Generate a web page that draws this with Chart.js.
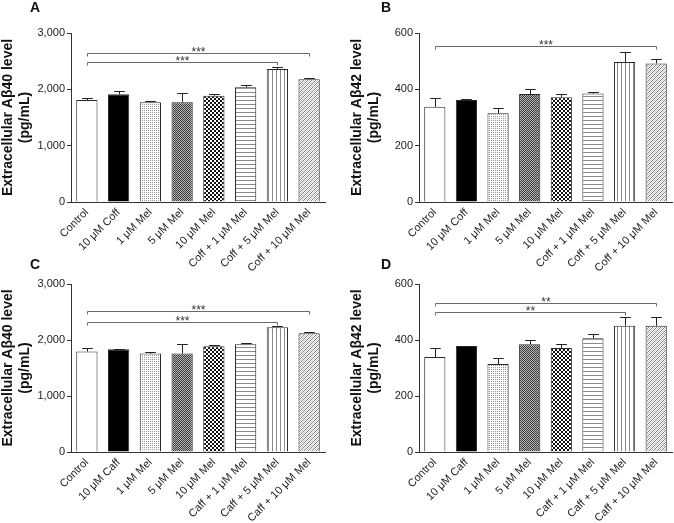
<!DOCTYPE html>
<html><head><meta charset="utf-8">
<script src="https://cdn.jsdelivr.net/npm/chart.js@4/dist/chart.umd.min.js"></script>
<style>
html,body{margin:0;padding:0;background:#fff;}
body{width:674px;height:523px;position:relative;overflow:hidden;font-family:"Liberation Sans",Arial,sans-serif;}
canvas{position:absolute;}
.lbl{position:absolute;font:bold 14px "Liberation Sans",Arial,sans-serif;line-height:14px;color:#111;}
</style></head><body>
<canvas id="cA" width="337" height="272" style="left:0;top:0"></canvas>
<canvas id="cB" width="337" height="272" style="left:337px;top:0"></canvas>
<canvas id="cC" width="337" height="272" style="left:0;top:251px"></canvas>
<canvas id="cD" width="337" height="272" style="left:337px;top:251px"></canvas>
<div class="lbl" style="left:30px;top:0px">A</div>
<div class="lbl" style="left:381px;top:0px">B</div>
<div class="lbl" style="left:30px;top:257px">C</div>
<div class="lbl" style="left:381px;top:257px">D</div>
<script>
// ---- data ----
const categoriesTop = ['Control','10 μM Coff','1 μM Mel','5 μM Mel','10 μM Mel','Coff + 1 μM Mel','Coff + 5 μM Mel','Coff + 10 μM Mel'];
const categoriesBottom = ['Control','10 μM Caff','1 μM Mel','5 μM Mel','10 μM Mel','Caff + 1 μM Mel','Caff + 5 μM Mel','Caff + 10 μM Mel'];

const meansA = [1811, 1912, 1770, 1770, 1887, 2036, 2361, 2178];
const semA   = [41, 58, 23, 160, 37, 35, 30, 29];
const meansB = [338, 362, 315, 383, 372, 385, 497, 492];
const semB   = [32, 5, 20, 17, 13, 7, 37, 15];
const meansC = [1793, 1836, 1758, 1758, 1890, 1925, 2228, 2121];
const semC   = [61, 11, 24, 167, 24, 17, 30, 18];
const meansD = [339, 379, 314, 385, 371, 406, 451, 451];
const semD   = [32, 1, 21, 14, 15, 16, 30, 30];

const ticksAbeta40 = [0, 1000, 2000, 3000];
const ticksAbeta42 = [0, 200, 400, 600];

const bracketsA = [{from:0, to:7, level:2640, label:'***'}, {from:0, to:6, level:2491, label:'***'}];
const bracketsB = [{from:0, to:7, level:554, label:'***'}];
const bracketsC = [{from:0, to:7, level:2520, label:'***'}, {from:0, to:6, level:2328, label:'***'}];
const bracketsD = [{from:0, to:7, level:533, label:'**'}, {from:0, to:6, level:501, label:'**'}];

// ---- styles ----
const FONT = '"Liberation Sans", Arial, sans-serif';
Chart.defaults.font.family = FONT;

function pattern(kind) {
  const c = document.createElement('canvas');
  const s = 4;
  c.width = c.height = s;
  const g = c.getContext('2d');
  g.fillStyle = '#fff'; g.fillRect(0, 0, s, s);
  if (kind === 'dots') {
    g.fillStyle = '#9a9a9a';
    g.fillRect(0,0,1,1); g.fillRect(2,2,1,1); g.fillRect(2,0,1,1); g.fillRect(0,2,1,1);
  } else if (kind === 'fine') {
    for (let i = 0; i < s; i++) for (let j = 0; j < s; j++) {
      g.fillStyle = ((i + j) % 2 === 0) ? '#3a3a3a' : '#b5b5b5';
      g.fillRect(i, j, 1, 1);
    }
  } else if (kind === 'checker') {
    g.fillStyle = '#111';
    g.fillRect(0,0,2,2); g.fillRect(2,2,2,2);
  } else if (kind === 'hlines') {
    g.fillStyle = '#8a8a8a'; g.fillRect(0, 0, s, 1);
  } else if (kind === 'vlines') {
    g.fillStyle = '#8a8a8a'; g.fillRect(0, 0, 1, s);
  } else if (kind === 'diag') {
    g.fillStyle = '#808080';
    g.fillRect(3,0,1,1); g.fillRect(2,1,1,1); g.fillRect(1,2,1,1); g.fillRect(0,3,1,1);
    g.fillStyle = '#c8c8c8';
    g.fillRect(1,0,1,1); g.fillRect(0,1,1,1); g.fillRect(3,2,1,1); g.fillRect(2,3,1,1);
  }
  return g.createPattern(c, 'repeat');
}
const fills = ['#ffffff', '#000000', pattern('dots'), pattern('fine'), pattern('checker'), pattern('hlines'), pattern('vlines'), pattern('diag')];

function errorBarPlugin(sems) {
  return {
    id: 'errorBars',
    afterDatasetsDraw(chart) {
      const meta = chart.getDatasetMeta(0);
      const y = chart.scales.y;
      const ctx = chart.ctx;
      ctx.save();
      ctx.strokeStyle = '#222'; ctx.lineWidth = 1;
      meta.data.forEach((bar, i) => {
        const v = chart.data.datasets[0].data[i];
        const x = Math.round(bar.x) + 0.5;
        const y0 = y.getPixelForValue(v);
        const y1 = Math.round(y.getPixelForValue(v + sems[i])) + 0.5;
        const hw = bar.width / 4;
        ctx.beginPath();
        ctx.moveTo(x, y0); ctx.lineTo(x, y1);
        ctx.moveTo(x - hw, y1); ctx.lineTo(x + hw, y1);
        ctx.stroke();
      });
      ctx.restore();
    }
  };
}

function bracketPlugin(list) {
  return {
    id: 'brackets',
    afterDatasetsDraw(chart) {
      const {ctx, scales: {x, y}} = chart;
      ctx.save();
      ctx.strokeStyle = '#6a6a6a'; ctx.lineWidth = 1; ctx.fillStyle = '#333';
      ctx.font = '12px ' + FONT; ctx.textAlign = 'center'; ctx.textBaseline = 'alphabetic';
      list.forEach(b => {
        const x0 = Math.round(x.getPixelForValue(b.from)) + 0.5;
        const x1 = Math.round(x.getPixelForValue(b.to)) + 0.5;
        const yy = Math.round(y.getPixelForValue(b.level)) + 0.5;
        ctx.beginPath();
        ctx.moveTo(x0, yy + 3); ctx.lineTo(x0, yy); ctx.lineTo(x1, yy); ctx.lineTo(x1, yy + 3);
        ctx.stroke();
        ctx.fillText(b.label, (x0 + x1) / 2, yy + 2);
      });
      ctx.restore();
    }
  };
}

function makePanel(id, cats, means, sems, yTicks, yTitle, brackets, geom) {
  const yMax = yTicks[yTicks.length - 1];
  new Chart(document.getElementById(id), {
    type: 'bar',
    data: {
      labels: cats,
      datasets: [{
        data: means,
        backgroundColor: fills,
        borderColor: '#2a2a2a',
        borderWidth: 1,
        categoryPercentage: 1,
        barPercentage: 0.67
      }]
    },
    options: {
      responsive: false,
      animation: false,
      devicePixelRatio: 1,
      layout: {autoPadding: false, padding: {left: 0, top: geom.top, right: geom.right, bottom: 0}},
      plugins: {legend: {display: false}, tooltip: {enabled: false}, title: {display: false}},
      scales: {
        x: {
          grid: {display: false, drawTicks: false},
          border: {display: true, color: '#333', width: 1},
          ticks: {minRotation: 45, maxRotation: 45, autoSkip: false, padding: 4, color: '#222', font: {size: 11}},
          afterFit: s => { s.height = geom.xh; }
        },
        y: {
          min: 0, max: yMax,
          afterBuildTicks: s => { s.ticks = yTicks.map(v => ({value: v})); },
          grid: {drawOnChartArea: false, drawTicks: true, tickLength: 4, color: '#333'},
          border: {display: true, color: '#333', width: 1},
          ticks: {padding: 2, color: '#222', font: {size: 11}, callback: v => Number(v).toLocaleString('en-US')},
          title: {display: true, text: [yTitle, '(pg/mL)'], color: '#111',
                  font: {size: 14, weight: 'bold', lineHeight: 1.2}, padding: {top: geom.tp, bottom: 0}},
          afterFit: s => { s.width = geom.yw; }
        }
      }
    },
    plugins: [errorBarPlugin(sems), bracketPlugin(brackets)]
  });
}

const geomLeft  = {top: 33, right: 12, xh: 70, yw: 71, tp: 0};
const geomRight = {top: 33, right: 2,  xh: 70, yw: 82, tp: 12};
const geomLeftB  = {top: 33, right: 12, xh: 71, yw: 71, tp: 0};
const geomRightB = {top: 33, right: 2,  xh: 71, yw: 82, tp: 12};

makePanel('cA', categoriesTop, meansA, semA, ticksAbeta40, 'Extracellular Aβ40 level', bracketsA, geomLeft);
makePanel('cB', categoriesTop, meansB, semB, ticksAbeta42, 'Extracellular Aβ42 level', bracketsB, geomRight);
makePanel('cC', categoriesBottom, meansC, semC, ticksAbeta40, 'Extracellular Aβ40 level', bracketsC, geomLeftB);
makePanel('cD', categoriesBottom, meansD, semD, ticksAbeta42, 'Extracellular Aβ42 level', bracketsD, geomRightB);
</script>
</body></html>
